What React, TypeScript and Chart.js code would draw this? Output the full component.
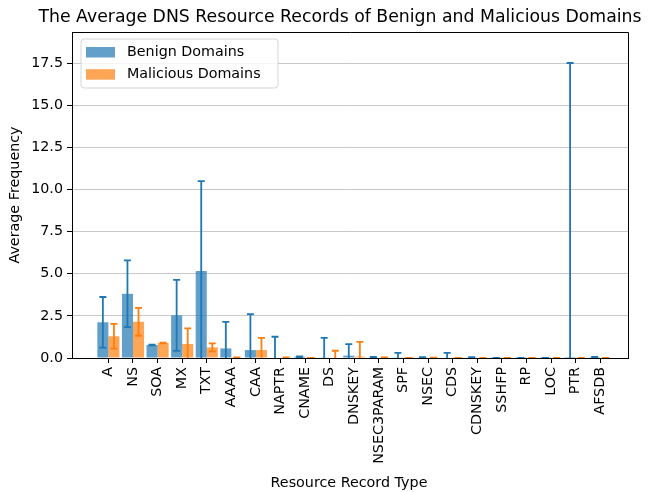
import React, { useEffect, useRef } from "react";
import { Chart, registerables } from "chart.js";

Chart.register(...registerables);

const categories = ["A", "NS", "SOA", "MX", "TXT", "AAAA", "CAA", "NAPTR", "CNAME", "DS", "DNSKEY", "NSEC3PARAM", "SPF", "NSEC", "CDS", "CDNSKEY", "SSHFP", "RP", "LOC", "PTR", "AFSDB"];
const benignMean = [2.12, 3.81, 0.77, 2.53, 5.16, 0.57, 0.47, 0.03, 0.08, 0.04, 0.14, 0.04, 0.02, 0.04, 0.03, 0.04, 0.01, 0.01, 0.01, 0.06, 0.05];
const benignStd = [1.5, 1.98, 0.02, 2.11, 5.34, 1.58, 2.13, 1.23, 0.02, 1.16, 0.68, 0.02, 0.29, 0.01, 0.28, 0.01, 0, 0, 0, 17.45, 0.01];
const maliciousMean = [1.29, 2.15, 0.89, 0.83, 0.63, 0.02, 0.47, 0.03, 0.01, 0.03, 0.08, 0.03, 0.01, 0.02, 0.01, 0, 0, 0, 0, 0, 0];
const maliciousStd = [0.73, 0.83, 0.02, 0.93, 0.24, 0.01, 0.73, 0.01, 0, 0.4, 0.88, 0.01, 0, 0, 0, 0, 0, 0, 0, 0, 0];
const yTicks = [0, 2.5, 5, 7.5, 10, 12.5, 15, 17.5];

const seriesLabels = ["Benign Domains", "Malicious Domains"];
const FONT = "'DejaVu Sans', sans-serif";
const FS = 14.3;

export default function App() {
  const ref = useRef<HTMLCanvasElement | null>(null);

  useEffect(() => {
    const canvas = ref.current!;
    const means = [benignMean, maliciousMean];
    const stds = [benignStd, maliciousStd];
    const lineColors = ["#1f77b4", "#ff7f0e"];
    const fillColors = ["rgba(31,119,180,0.7)", "rgba(255,127,14,0.7)"];

    const decor = {
      id: "decor",
      afterDatasetsDraw(chart: any) {
        const ctx = chart.ctx;
        const area = chart.chartArea;
        const ys = chart.scales.y;
        ctx.save();
        ctx.beginPath();
        ctx.rect(area.left, area.top, area.right - area.left, area.bottom - area.top);
        ctx.clip();
        for (let d = 0; d < 2; d++) {
          const meta = chart.getDatasetMeta(d);
          ctx.strokeStyle = lineColors[d];
          ctx.lineWidth = 1.8;
          means[d].forEach((m, i) => {
            const x = meta.data[i].x;
            const yt = ys.getPixelForValue(m + stds[d][i]);
            const yb = ys.getPixelForValue(m - stds[d][i]);
            ctx.beginPath();
            ctx.moveTo(x, yt);
            ctx.lineTo(x, yb);
            ctx.moveTo(x - 3.5, yt);
            ctx.lineTo(x + 3.5, yt);
            ctx.moveTo(x - 3.5, yb);
            ctx.lineTo(x + 3.5, yb);
            ctx.stroke();
          });
        }
        ctx.restore();
      },
      afterDraw(chart: any) {
        const ctx = chart.ctx;
        const area = chart.chartArea;
        ctx.save();
        // top and right spines
        ctx.strokeStyle = "#000";
        ctx.lineWidth = 1;
        ctx.beginPath();
        ctx.moveTo(area.left, area.top + 0.5);
        ctx.lineTo(area.right + 0.5, area.top + 0.5);
        ctx.lineTo(area.right + 0.5, area.bottom);
        ctx.stroke();
        // title
        ctx.fillStyle = "#000";
        ctx.font = `17.3px ${FONT}`;
        ctx.textAlign = "center";
        ctx.textBaseline = "alphabetic";
        const cx = (area.left + area.right) / 2;
        ctx.fillText("The Average DNS Resource Records of Benign and Malicious Domains", cx - 10, 21.5);
        // axis titles
        ctx.font = `${FS}px ${FONT}`;
        ctx.fillText("Resource Record Type", cx - 1, 486.5);
        ctx.save();
        ctx.translate(19, (area.top + area.bottom) / 2);
        ctx.rotate(-Math.PI / 2);
        ctx.fillText("Average Frequency", 0, 0);
        ctx.restore();
        // legend
        const lx = 81, ly = 39, lw = 197, lh = 49, r = 3;
        ctx.beginPath();
        ctx.moveTo(lx + r, ly);
        ctx.arcTo(lx + lw, ly, lx + lw, ly + lh, r);
        ctx.arcTo(lx + lw, ly + lh, lx, ly + lh, r);
        ctx.arcTo(lx, ly + lh, lx, ly, r);
        ctx.arcTo(lx, ly, lx + lw, ly, r);
        ctx.closePath();
        ctx.fillStyle = "rgba(255,255,255,0.8)";
        ctx.fill();
        ctx.strokeStyle = "rgba(204,204,204,0.8)";
        ctx.lineWidth = 1;
        ctx.stroke();
        ctx.textAlign = "left";
        ctx.textBaseline = "middle";
        seriesLabels.forEach((lab, k) => {
          const py = 47 + k * 22.2;
          ctx.fillStyle = fillColors[k];
          ctx.fillRect(86, py, 29, 10.5);
          ctx.fillStyle = "#000";
          ctx.fillText(lab, 127, py + 5.5);
        });
        ctx.restore();
      },
    };

    const chart = new Chart(canvas, {
      type: "bar",
      data: {
        datasets: [0, 1].map((d) => ({
          label: seriesLabels[d],
          data: means[d].map((v, i) => ({ x: i, y: v })),
          backgroundColor: fillColors[d],
          borderWidth: 0,
          categoryPercentage: 0.9,
          barPercentage: 1,
        })),
      },
      options: {
        responsive: false,
        animation: false,
        devicePixelRatio: 1,
        layout: { padding: { left: 0, right: 33, top: 32, bottom: 0 } },
        plugins: { legend: { display: false }, title: { display: false }, tooltip: { enabled: false } },
        scales: {
          x: {
            type: "linear",
            offset: false,
            min: -1.48,
            max: 21.13,
            afterBuildTicks: (scale: any) => {
              scale.ticks = categories.map((_, i) => ({ value: i }));
            },
            afterFit: (scale: any) => {
              scale.height = 134;
            },
            ticks: {
              autoSkip: false,
              maxRotation: 90,
              minRotation: 90,
              padding: 4,
              color: "#000",
              font: { family: FONT, size: FS },
              callback: (v: any) => categories[v as number] ?? "",
            },
            grid: { drawOnChartArea: false, offset: false, tickLength: 5, tickColor: "#000", tickWidth: 1 },
            border: { color: "#000", width: 1 },
          },
          y: {
            type: "linear",
            min: 0,
            max: 19.35,
            afterBuildTicks: (scale: any) => {
              scale.ticks = yTicks.map((v) => ({ value: v }));
            },
            afterFit: (scale: any) => {
              scale.width = 72;
            },
            ticks: {
              padding: 4,
              color: "#000",
              font: { family: FONT, size: FS },
              callback: (v: any) => Number(v).toFixed(1),
            },
            grid: { color: "rgba(176,176,176,0.7)", lineWidth: 1, tickLength: 5, tickColor: "#000" },
            border: { color: "#000", width: 1 },
          },
        },
      },
      plugins: [decor],
    } as any);
    return () => chart.destroy();
  }, []);

  return (
    <div style={{ position: "absolute", left: 0, top: 0, width: 661, height: 492, background: "#fff" }}>
      <canvas ref={ref} width={661} height={492} style={{ width: 661, height: 492, display: "block" }} />
    </div>
  );
}
